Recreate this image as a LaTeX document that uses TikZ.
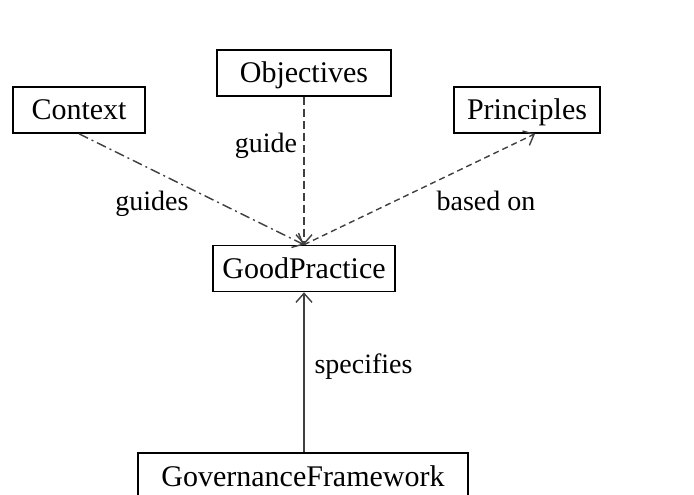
\documentclass[tikz,border=0pt]{standalone}
\usepackage{fontspec}
\setmainfont{Liberation Serif}
\usetikzlibrary{arrows.meta,calc}
\tikzset{
  cls/.style={draw=black, line width=1.6pt, rectangle, inner sep=0pt, minimum height=46pt, text height=25pt, text depth=5pt, font=\fontsize{30}{35}\selectfont},
  lbl/.style={font=\fontsize{28}{33}\selectfont, inner sep=0pt, anchor=base},
  rel/.style={line width=1.4pt, draw=black!75, -{Straight Barb[length=9pt,width=16pt,line width=1.4pt]}},
  dashdot/.style={dash pattern=on 10pt off 4pt on 2pt off 4pt},
  longdash/.style={dash pattern=on 8pt off 4pt},
  shortdash/.style={dash pattern=on 6pt off 4pt}
}
\begin{document}
\begin{tikzpicture}[x=1pt,y=-1pt]
\useasboundingbox (0,0) rectangle (694,495);
\node[cls, minimum width=132pt] (ctx) at (79,110) {Context};
\node[cls, minimum width=174pt] (obj) at (304,73) {Objectives};
\node[cls, minimum width=146pt] (prin) at (527,110) {Principles};
\node[cls, minimum width=182pt] (gp) at (304,268.5) {GoodPractice};
\node[cls, minimum width=330pt] (gf) at (303,476) {GovernanceFramework};

\draw[rel, dashdot] (ctx.south) -- (gp.north);
\draw[rel, longdash] (obj.south) -- (gp.north);
\draw[rel, shortdash] (gp.north) -- ([xshift=8pt]prin.south);
\draw[rel] (gf.north -| gp.north) -- (gp.south);

\node[lbl] (lguides) at (152,210) {guides};
\node[lbl] (lguide) at (266,152) {guide};
\node[lbl] (lbased) at (486,210) {based on};
\node[lbl] (lspec) at (363.5,373) {specifies};
\end{tikzpicture}
\end{document}
